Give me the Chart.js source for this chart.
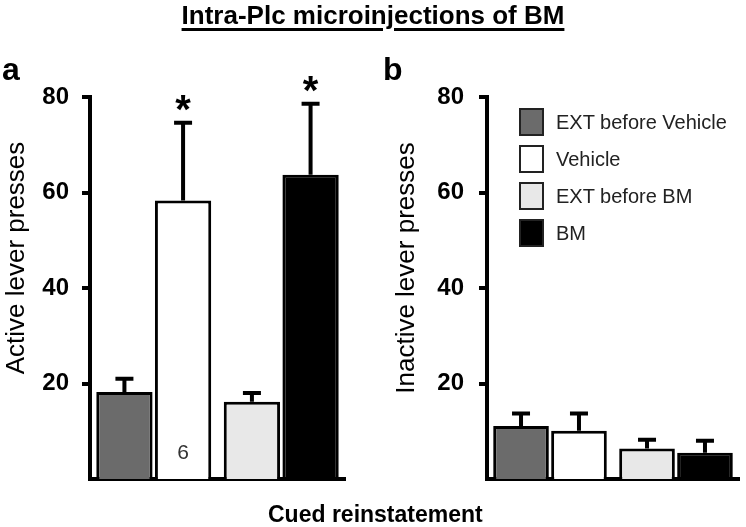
<!DOCTYPE html>
<html>
<head>
<meta charset="utf-8">
<script src="https://cdn.jsdelivr.net/npm/chart.js@4"></script>
<style>
  body { margin: 0; background: #fff; }
  #page { position: relative; width: 746px; height: 527px; overflow: hidden; font-family: "Liberation Sans", Arial, sans-serif; color: #000; }
  canvas { position: absolute; top: 0; }
  .txt { position: absolute; white-space: nowrap; }
  #title { left: 0; width: 746px; top: 0; height: 30px; line-height: 30px; text-align: center; font-weight: bold; font-size: 26px;
           text-decoration: underline; text-decoration-thickness: 3px; text-underline-offset: 4px; }
  .panel { font-weight: bold; font-size: 32px; line-height: 32px; top: 53px; }
  #xTitle { left: 268px; top: 501px; font-weight: bold; font-size: 23px; line-height: 26px; }
  .yTitle { width: 270px; height: 30px; line-height: 30px; font-size: 26px; text-align: center; transform: rotate(-90deg); }
  #legend { position: absolute; left: 519px; top: 0; }
  .item { position: absolute; left: 0; height: 28px; display: flex; align-items: center; }
  .box { width: 25px; height: 28px; box-sizing: border-box; border: 2.5px solid #222; }
  .label { margin-left: 12px; font-size: 20px; color: #222; white-space: nowrap; }
</style>
</head>
<body>
<div id="page">
  <canvas id="activeChart" width="373" height="527" style="left:0"></canvas>
  <canvas id="inactiveChart" width="373" height="527" style="left:373px"></canvas>
  <div id="title" class="txt">Intra-Plc microinjections of BM</div>
  <div class="txt panel" style="left:2px">a</div>
  <div class="txt panel" style="left:383px">b</div>
  <div class="txt yTitle" style="left:-120px; top:243px">Active lever presses</div>
  <div class="txt yTitle" style="left:270px; top:253px">Inactive lever presses</div>
  <div id="xTitle" class="txt">Cued reinstatement</div>
  <div id="legend"></div>
</div>
<script>
// groups on the x axis, and which group each series belongs to
const groups = ['Vehicle', 'BM'];
const seriesNames = ['EXT before Vehicle', 'Vehicle', 'EXT before BM', 'BM'];
const seriesGroup = [0, 0, 1, 1];
const seriesColors = ['#6b6b6b', '#ffffff', '#e8e8e8', '#000000'];

// panel a: active lever presses (mean, SEM)
const activeMeans = [18.2, 58.3, 16.2, 63.7];
const activeSem = [2.8, 16.3, 1.8, 14.9];
const activeSig = [false, true, false, true];
const activeN = ['', '6', '', ''];

// panel b: inactive lever presses (mean, SEM)
const inactiveMeans = [11.1, 10.1, 6.4, 5.5];
const inactiveSem = [2.6, 3.6, 1.8, 2.5];

const yTicks = [20, 40, 60, 80];
const yMax = 80;

const FONT = "'Liberation Sans', Arial, sans-serif";

// error bars, asterisks and n labels drawn on top of the bars
const barExtras = {
    id: 'barExtras',
    afterDatasetsDraw(chart) {
        const ctx = chart.ctx;
        const y = chart.scales.y;
        ctx.save();
        chart.data.datasets.forEach((ds, i) => {
            const meta = chart.getDatasetMeta(i);
            meta.data.forEach((bar, j) => {
                const v = ds.data[j];
                if (v == null) return;
                const top = y.getPixelForValue(v + ds.sem);
                ctx.strokeStyle = '#000';
                ctx.lineWidth = 4;
                ctx.beginPath();
                ctx.moveTo(bar.x, bar.y);
                ctx.lineTo(bar.x, top);
                ctx.moveTo(bar.x - 9, top);
                ctx.lineTo(bar.x + 9, top);
                ctx.stroke();
                if (ds.sig) {
                    ctx.fillStyle = '#000';
                    ctx.font = 'bold 40px ' + FONT;
                    ctx.textAlign = 'center';
                    ctx.textBaseline = 'alphabetic';
                    ctx.fillText('*', bar.x, top);
                }
                if (ds.n) {
                    ctx.fillStyle = '#333';
                    ctx.font = '21px ' + FONT;
                    ctx.textAlign = 'center';
                    ctx.textBaseline = 'middle';
                    ctx.fillText(ds.n, bar.x, y.getPixelForValue(0) - 26);
                }
            });
        });
        ctx.restore();
    }
};

function makeDatasets(means, sem, sig, nLabels) {
    return seriesNames.map((name, i) => ({
        label: name,
        data: groups.map((g, gi) => seriesGroup[i] === gi ? means[i] : null),
        sem: sem[i],
        sig: sig ? sig[i] : false,
        n: nLabels ? nLabels[i] : '',
        backgroundColor: seriesColors[i],
        borderColor: '#000',
        borderWidth: 3,
        skipNull: true,
        categoryPercentage: 0.92,
        barPercentage: 0.96
    }));
}

function makeConfig(datasets, axisWidth, padRight, tickPad) {
    return {
        type: 'bar',
        data: { labels: groups, datasets: datasets },
        options: {
            responsive: false,
            animation: false,
            layout: { padding: { left: 0, right: padRight, top: 97, bottom: 48 } },
            plugins: { legend: { display: false }, tooltip: { enabled: false } },
            scales: {
                x: {
                    ticks: { display: false },
                    grid: { display: false, drawTicks: false },
                    border: { display: true, color: '#000', width: 4 }
                },
                y: {
                    min: 0,
                    max: yMax,
                    afterBuildTicks: axis => { axis.ticks = yTicks.map(v => ({ value: v })); },
                    afterFit: scale => { scale.width = axisWidth; },
                    ticks: { color: '#000', padding: tickPad, font: { family: FONT, size: 24, weight: 'bold' } },
                    grid: { display: true, drawOnChartArea: false, drawTicks: true, tickLength: 8, color: '#000', lineWidth: 4 },
                    border: { display: true, color: '#000', width: 4 }
                }
            }
        },
        plugins: [barExtras]
    };
}

new Chart(document.getElementById('activeChart'),
    makeConfig(makeDatasets(activeMeans, activeSem, activeSig, activeN), 90, 28, 13));
new Chart(document.getElementById('inactiveChart'),
    makeConfig(makeDatasets(inactiveMeans, inactiveSem), 114, 7, 15));

// legend for panel b
const legend = document.getElementById('legend');
seriesNames.forEach((name, i) => {
    const item = document.createElement('div');
    item.className = 'item';
    item.style.top = (108 + i * 37) + 'px';
    const box = document.createElement('div');
    box.className = 'box';
    box.style.background = seriesColors[i];
    const label = document.createElement('span');
    label.className = 'label';
    label.textContent = name;
    item.appendChild(box);
    item.appendChild(label);
    legend.appendChild(item);
});
</script>
</body>
</html>
